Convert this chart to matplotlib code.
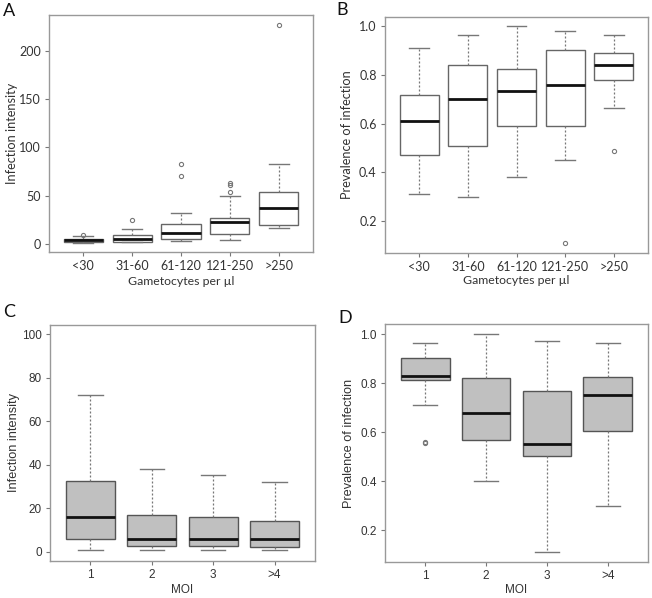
import matplotlib
matplotlib.use("Agg")
import matplotlib.pyplot as plt

# group labels
gam_groups = ["<30", "31-60", "61-120", "121-250", ">250"]
moi_groups = ["1", "2", "3", ">4"]

# A: infection intensity by gametocyte density
a_whislo = [1.0, 1.7, 3.5, 4.1, 16.6]
a_q1 = [2.2, 2.4, 5.2, 10.4, 20.0]
a_med = [4.0, 4.8, 11.7, 23.0, 37.0]
a_q3 = [5.5, 9.0, 20.4, 26.6, 54.0]
a_whishi = [8.3, 16.0, 32.0, 50.0, 82.6]
a_fliers = [[9.5], [25.0], [70.5, 83.0], [54.0, 61.5, 63.0], [226.5]]

# B: prevalence of infection by gametocyte density
b_whislo = [0.31, 0.298, 0.38, 0.45, 0.665]
b_q1 = [0.47, 0.508, 0.589, 0.589, 0.78]
b_med = [0.61, 0.70, 0.735, 0.76, 0.842]
b_q3 = [0.719, 0.84, 0.824, 0.90, 0.891]
b_whishi = [0.91, 0.962, 1.0, 0.981, 0.962]
b_fliers = [[], [], [], [0.11], [0.489]]

# C: infection intensity by MOI
c_whislo = [0.9, 0.9, 0.9, 0.9]
c_q1 = [5.8, 2.8, 2.8, 2.0]
c_med = [16.1, 6.0, 6.0, 6.0]
c_q3 = [32.3, 17.0, 15.9, 14.1]
c_whishi = [72.1, 38.1, 35.1, 31.9]
c_fliers = [[], [], [], []]

# D: prevalence of infection by MOI
d_whislo = [0.71, 0.40, 0.11, 0.30]
d_q1 = [0.811, 0.57, 0.501, 0.604]
d_med = [0.831, 0.68, 0.55, 0.751]
d_q3 = [0.901, 0.82, 0.766, 0.824]
d_whishi = [0.962, 1.0, 0.97, 0.962]
d_fliers = [[0.554, 0.56], [], [], []]


def make_stats(lo, q1, med, q3, hi, fl):
    return [dict(whislo=a, q1=b, med=c, q3=d, whishi=e, fliers=f)
            for a, b, c, d, e, f in zip(lo, q1, med, q3, hi, fl)]


W, H = 652, 598
fig = plt.figure(figsize=(W / 100, H / 100), dpi=100)


def px_axes(l, t, r, b):
    ax = fig.add_axes([l / W, (H - b) / H, (r - l) / W, (b - t) / H])
    ax.px_w, ax.px_h = r - l, b - t
    return ax


def draw_panel(ax, stats, labels, fill, font, xlabel, ylabel, yticks, ylim,
               tick_fs, xlab_fs, ylab_fs, edge, xlab_off, ylab_off):
    n = len(stats)
    ax.bxp(stats, positions=range(1, n + 1), widths=0.8, patch_artist=True,
           boxprops=dict(facecolor=fill, edgecolor=edge, linewidth=1.0),
           medianprops=dict(color="#111111", linewidth=2.0),
           whiskerprops=dict(color="#777777", linewidth=0.9, linestyle=(0, (1.6, 1.6))),
           capprops=dict(color="#777777", linewidth=1.0),
           flierprops=dict(marker="o", markersize=3.0, markerfacecolor="none",
                           markeredgecolor="#777777", markeredgewidth=0.8),
           capwidths=0.4)
    pad = 0.7 if n == 5 else 0.66
    ax.set_xlim(1 - pad, n + pad)
    ax.set_ylim(*ylim)
    ax.set_xticks(range(1, n + 1))
    ax.set_xticklabels(labels, family=font, fontsize=tick_fs, color="#333333")
    ax.set_yticks(yticks)
    ax.set_yticklabels([f"{v:g}" if isinstance(v, int) else f"{v:.1f}" for v in yticks],
                       family=font, fontsize=tick_fs, color="#333333")
    ax.tick_params(direction="out", length=3, width=0.8, color="#777777", pad=3)
    for s in ax.spines.values():
        s.set_color("#999999")
        s.set_linewidth(1.0)
    ax.set_xlabel(xlabel, family=font, fontsize=xlab_fs, color="#333333")
    ax.set_ylabel(ylabel, family=font, fontsize=ylab_fs, color="#333333")
    ax.xaxis.set_label_coords(0.5, -xlab_off / ax.px_h)
    ax.yaxis.set_label_coords(-ylab_off / ax.px_w, 0.5)


axA = px_axes(49, 15, 313, 252)
draw_panel(axA, make_stats(a_whislo, a_q1, a_med, a_q3, a_whishi, a_fliers), gam_groups,
           "white", "Lato", "Gametocytes per µl", "Infection intensity",
           [0, 50, 100, 150, 200], (-8.3, 237.3), 9, 8.8, 9.2, "#666666", 24, 31)

axB = px_axes(385, 17, 648, 253)
draw_panel(axB, make_stats(b_whislo, b_q1, b_med, b_q3, b_whishi, b_fliers), gam_groups,
           "white", "Lato", "Gametocytes per µl", "Prevalence of infection",
           [0.2, 0.4, 0.6, 0.8, 1.0], (0.070, 1.037), 9, 8.8, 9.2, "#666666", 22, 32)

axC = px_axes(50, 325, 315, 561)
draw_panel(axC, make_stats(c_whislo, c_q1, c_med, c_q3, c_whishi, c_fliers), moi_groups,
           "#c0c0c0", "Liberation Sans", "MOI", "Infection intensity",
           [0, 20, 40, 60, 80, 100], (-4.3, 104.3), 8.5, 8.5, 9.2, "#555555", 23, 30)

axD = px_axes(385, 324, 648, 562)
draw_panel(axD, make_stats(d_whislo, d_q1, d_med, d_q3, d_whishi, d_fliers), moi_groups,
           "#c0c0c0", "Liberation Sans", "MOI", "Prevalence of infection",
           [0.2, 0.4, 0.6, 0.8, 1.0], (0.071, 1.041), 8.5, 8.5, 9.2, "#555555", 22, 30)

for letter, x, y, fam in [("A", 3, 3, "Lato"), ("B", 336, 2, "Lato"),
                          ("C", 3, 304, "Lato"), ("D", 338, 310, "Lato")]:
    fig.text(x / W, 1 - y / H, letter, family=fam, fontsize=13, va="top", ha="left", color="#111111")

fig.savefig("out.png", dpi=100)
